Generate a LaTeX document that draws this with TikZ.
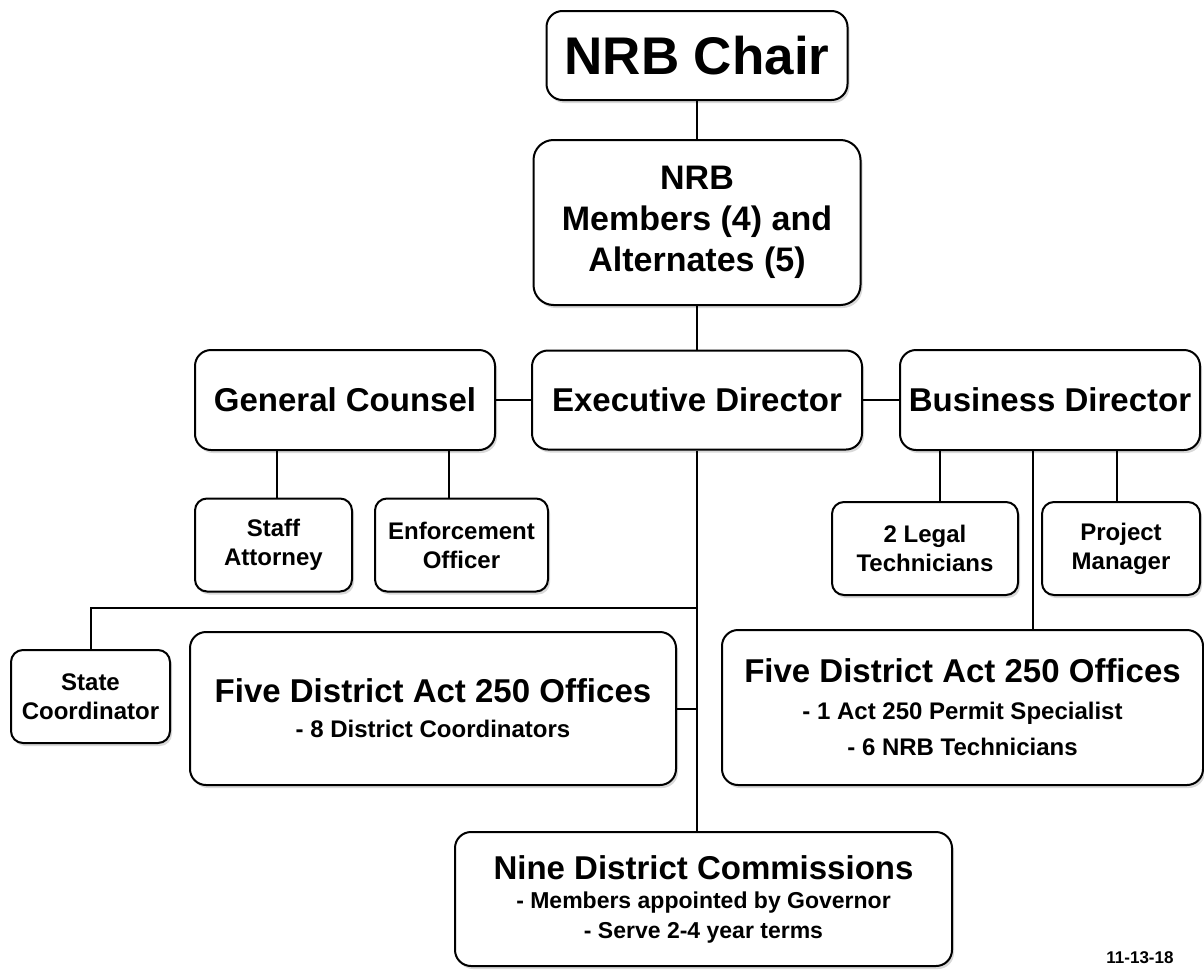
\documentclass[tikz,border=0pt]{standalone}
\usepackage{fontspec}
\setmainfont{Liberation Sans}
\usetikzlibrary{shadows}
\newcommand{\fsz}[2]{\fontsize{#1}{#2}\selectfont}
\begin{document}
\begin{tikzpicture}[x=1pt,y=-1pt,
  box/.style={draw,line width=2pt,rounded corners=16pt,fill=white,align=center,inner sep=0pt,
    drop shadow={shadow xshift=2pt,shadow yshift=-3pt,opacity=.3}},
  small/.style={box,rounded corners=12pt,font=\bfseries\fsz{24}{29}},
  link/.style={line width=2pt}]
\useasboundingbox (0,0) rectangle (1204,969);
\node[box,minimum width=301pt,minimum height=89pt,font=\bfseries\fsz{53}{60}] (chair) at (697,55.5) {NRB Chair};
\node[box,rounded corners=20pt,minimum width=327pt,minimum height=165pt,font=\bfseries\fsz{34}{41}] (members) at (697,222.5) {NRB\\Members (4) and\\Alternates (5)};
\node[box,minimum width=330pt,minimum height=99pt,font=\bfseries\fsz{33}{36}] (exec) at (697,400) {Executive Director};
\node[box,minimum width=300pt,minimum height=100pt,font=\bfseries\fsz{33}{36}] (counsel) at (345,400) {General Counsel};
\node[box,minimum width=300pt,minimum height=100pt,font=\bfseries\fsz{33}{36}] (business) at (1050,400) {Business Director};
\node[small,minimum width=157pt,minimum height=93pt] (staff) at (273.5,545) {Staff\\Attorney};
\node[small,minimum width=173pt,minimum height=93pt] (enforce) at (461.5,545) {Enforcement\\Officer};
\node[small,minimum width=186pt,minimum height=93pt] (legal) at (925,548.5) {2 Legal\\Technicians};
\node[small,minimum width=158pt,minimum height=93pt] (project) at (1121,548.5) {Project\\Manager};
\node[small,minimum width=159pt,minimum height=93pt] (statec) at (90.5,696.5) {State\\Coordinator};
\node[box,minimum width=486pt,minimum height=153pt,font=\bfseries\fsz{24}{35}] (fiveL) at (433,708.5)
  {{\fsz{33}{35}Five District Act 250 Offices}\\- 8 District Coordinators};
\node[box,minimum width=481pt,minimum height=155pt,font=\bfseries\fsz{24}{36.5}] (fiveR) at (962.5,707.5)
  {{\fsz{33}{36.5}Five District Act 250 Offices}\\- 1 Act 250 Permit Specialist\\- 6 NRB Technicians};
\node[box,minimum width=497pt,minimum height=134pt,font=\bfseries\fsz{23}{29.5}] (nine) at (703.5,899)
  {{\fsz{33}{29.5}Nine District Commissions}\\- Members appointed by Governor\\- Serve 2-4 year terms};
\node[font=\bfseries\fsz{17}{20}] (date) at (1140,957.5) {11-13-18};
\coordinate (fork) at (697,608);
\draw[link] (chair) -- (members);
\draw[link] (members) -- (exec);
\draw[link] (counsel) -- (exec);
\draw[link] (exec) -- (business);
\draw[link] ([xshift=3pt]staff.north) -- ([xshift=3pt]staff.north |- counsel.south);
\draw[link] ([xshift=-13pt]enforce.north) -- ([xshift=-13pt]enforce.north |- counsel.south);
\draw[link] ([xshift=15pt]legal.north) -- ([xshift=15pt]legal.north |- business.south);
\draw[link] ([xshift=-4pt]project.north) -- ([xshift=-4pt]project.north |- business.south);
\draw[link] ([xshift=70pt]fiveR.north) -- ([xshift=70pt]fiveR.north |- business.south);
\draw[link] (exec.south) -- (exec.south |- nine.north);
\draw[link] (fork) -| (statec.north);
\draw[link] (fiveL.east) -- (fiveL.east -| exec.south);
\end{tikzpicture}
\end{document}
